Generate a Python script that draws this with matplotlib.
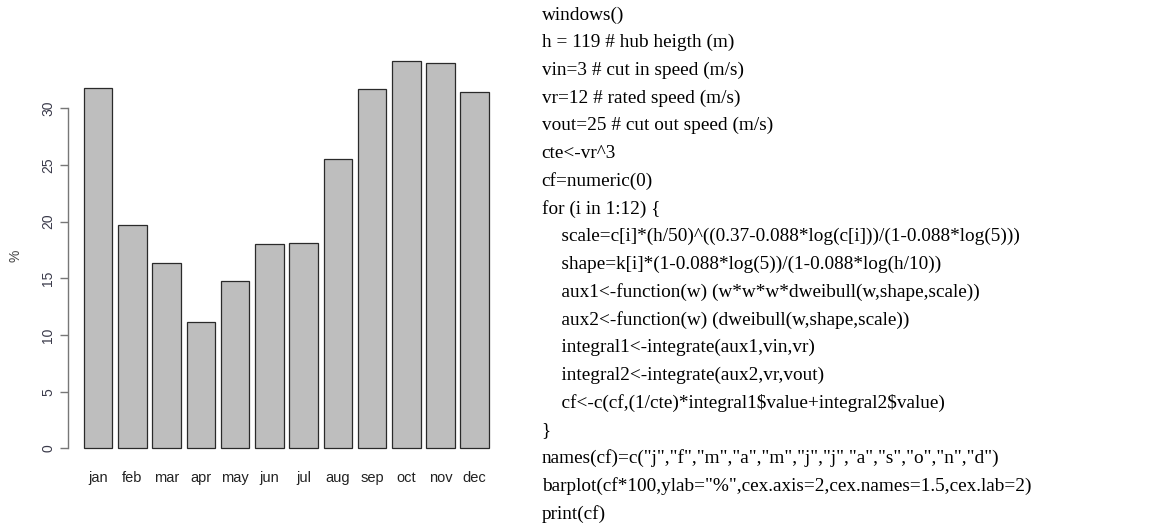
import matplotlib
matplotlib.use("Agg")
import matplotlib.pyplot as plt
import numpy as np

months = ["jan", "feb", "mar", "apr", "may", "jun", "jul", "aug", "sep", "oct", "nov", "dec"]
cf_pct = [31.76, 19.69, 16.38, 11.12, 14.76, 18.02, 18.14, 25.48, 31.70, 34.14, 34.02, 31.41]
yticks = [0, 5, 10, 15, 20, 25, 30]

code_lines = [
    "windows()",
    "h = 119 # hub heigth (m)",
    "vin=3 # cut in speed (m/s)",
    "vr=12 # rated speed (m/s)",
    "vout=25 # cut out speed (m/s)",
    "cte<-vr^3",
    "cf=numeric(0)",
    "for (i in 1:12) {",
    "    scale=c[i]*(h/50)^((0.37-0.088*log(c[i]))/(1-0.088*log(5)))",
    "    shape=k[i]*(1-0.088*log(5))/(1-0.088*log(h/10))",
    "    aux1<-function(w) (w*w*w*dweibull(w,shape,scale))",
    "    aux2<-function(w) (dweibull(w,shape,scale))",
    "    integral1<-integrate(aux1,vin,vr)",
    "    integral2<-integrate(aux2,vr,vout)",
    "    cf<-c(cf,(1/cte)*integral1$value+integral2$value)",
    "}",
    'names(cf)=c("j","f","m","a","m","j","j","a","s","o","n","d")',
    'barplot(cf*100,ylab="%",cex.axis=2,cex.names=1.5,cex.lab=2)',
    "print(cf)",
]

W, H = 1164, 523
fig = plt.figure(figsize=(W / 100, H / 100), dpi=100)
fig.patch.set_facecolor("white")

ax = fig.add_axes([67.7 / W, 1 - 463.8 / H, (505.2 - 67.7) / W, (463.8 - 45.8) / H])

# R barplot geometry: width 1, space 0.2
n = len(cf_pct)
lefts = 0.2 + np.arange(n) * 1.2
centers = lefts + 0.5
ax.bar(centers, cf_pct, width=1.0, color="#BEBEBE", edgecolor="#2a2a2a", linewidth=0.9)

xmin, xmax = 0.2, lefts[-1] + 1.0
dx = (xmax - xmin) * 0.04
ax.set_xlim(xmin - dx, xmax + dx)
ymax = max(cf_pct)
dy = ymax * 0.04
ax.set_ylim(-dy, ymax + dy)

for s in ["top", "right", "bottom"]:
    ax.spines[s].set_visible(False)
ax.spines["left"].set_bounds(0, 30)
ax.spines["left"].set_color("#777777")
ax.spines["left"].set_linewidth(1.0)

ax.set_yticks(yticks)
ax.set_yticklabels([str(t) for t in yticks], rotation=90, va="center",
                   fontsize=10, color="#3a3a4a", family="Liberation Sans")
ax.tick_params(axis="y", length=5.5, width=1.0, color="#777777", pad=3.5)

ax.set_xticks(centers)
ax.set_xticklabels(months, fontsize=10.5, color="#222222", family="Liberation Sans")
ax.tick_params(axis="x", length=0, pad=5.2)

fig.text(15 / W, 1 - 256 / H, "%", rotation=90, ha="center", va="center",
         fontsize=10, color="#444444", family="Liberation Sans")

# code text on the right
x0 = 541.7 / W
y_first = 15.0
spacing = 27.7
for i, line in enumerate(code_lines):
    fig.text(x0, 1 - (y_first + i * spacing) / H, line, ha="left", va="center",
             fontsize=13.9, color="black", family="Liberation Serif",
             parse_math=False)

fig.savefig("out.png", dpi=100, facecolor="white")
